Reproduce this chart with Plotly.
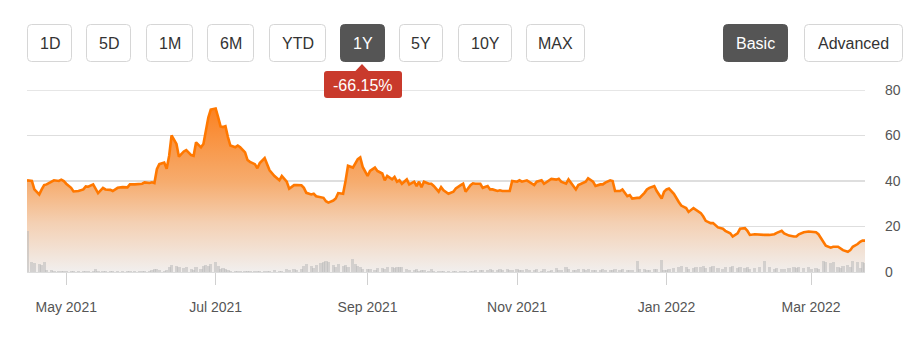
import plotly.graph_objects as go

# ---------------- data ----------------
dates = [
    "2021-04-15", "2021-04-17", "2021-04-18", "2021-04-20", "2021-04-21", "2021-04-22", "2021-04-23", "2021-04-25", "2021-04-26", "2021-04-28", "2021-04-29", "2021-04-30",
    "2021-05-01", "2021-05-03", "2021-05-04", "2021-05-06", "2021-05-08", "2021-05-09", "2021-05-10", "2021-05-12", "2021-05-13", "2021-05-14", "2021-05-16", "2021-05-17", "2021-05-19", "2021-05-20", "2021-05-22", "2021-05-24", "2021-05-26", "2021-05-27", "2021-05-29", "2021-05-31",
    "2021-06-01", "2021-06-02", "2021-06-04", "2021-06-05", "2021-06-06", "2021-06-07", "2021-06-08", "2021-06-10", "2021-06-11", "2021-06-12", "2021-06-13", "2021-06-15", "2021-06-16", "2021-06-18", "2021-06-19", "2021-06-21", "2021-06-22", "2021-06-23", "2021-06-25", "2021-06-26", "2021-06-27", "2021-06-28", "2021-06-29",
    "2021-07-01", "2021-07-02", "2021-07-03", "2021-07-04", "2021-07-05", "2021-07-06", "2021-07-07", "2021-07-09", "2021-07-10", "2021-07-11", "2021-07-13", "2021-07-14", "2021-07-15", "2021-07-17", "2021-07-18", "2021-07-19", "2021-07-21", "2021-07-22", "2021-07-23", "2021-07-25", "2021-07-27", "2021-07-28", "2021-07-30", "2021-07-31",
    "2021-08-02", "2021-08-03", "2021-08-05", "2021-08-06", "2021-08-07", "2021-08-09", "2021-08-10", "2021-08-11", "2021-08-13", "2021-08-14", "2021-08-15", "2021-08-16", "2021-08-18", "2021-08-19", "2021-08-20", "2021-08-22", "2021-08-23", "2021-08-24", "2021-08-26", "2021-08-27", "2021-08-28", "2021-08-29", "2021-08-30",
    "2021-09-01", "2021-09-02", "2021-09-04", "2021-09-05", "2021-09-07", "2021-09-08", "2021-09-09", "2021-09-11", "2021-09-12", "2021-09-13", "2021-09-14", "2021-09-15", "2021-09-17", "2021-09-18", "2021-09-20", "2021-09-21", "2021-09-22", "2021-09-23", "2021-09-24", "2021-09-26", "2021-09-27", "2021-09-28", "2021-09-30",
    "2021-10-01", "2021-10-02", "2021-10-04", "2021-10-06", "2021-10-07", "2021-10-09", "2021-10-10", "2021-10-11", "2021-10-13", "2021-10-14", "2021-10-15", "2021-10-17", "2021-10-18", "2021-10-20", "2021-10-21", "2021-10-22", "2021-10-24", "2021-10-25", "2021-10-26", "2021-10-28", "2021-10-29", "2021-10-30",
    "2021-11-01", "2021-11-02", "2021-11-03", "2021-11-05", "2021-11-06", "2021-11-08", "2021-11-09", "2021-11-11", "2021-11-12", "2021-11-14", "2021-11-15", "2021-11-17", "2021-11-18", "2021-11-19", "2021-11-21", "2021-11-22", "2021-11-24", "2021-11-25", "2021-11-26", "2021-11-28", "2021-11-29", "2021-11-30",
    "2021-12-02", "2021-12-03", "2021-12-05", "2021-12-06", "2021-12-07", "2021-12-09", "2021-12-10", "2021-12-11", "2021-12-13", "2021-12-14", "2021-12-16", "2021-12-17", "2021-12-18", "2021-12-20", "2021-12-21", "2021-12-23", "2021-12-24", "2021-12-25", "2021-12-27", "2021-12-28", "2021-12-30", "2021-12-31",
    "2022-01-01", "2022-01-02", "2022-01-04", "2022-01-06", "2022-01-07", "2022-01-09", "2022-01-10", "2022-01-12", "2022-01-13", "2022-01-15", "2022-01-16", "2022-01-17", "2022-01-19", "2022-01-20", "2022-01-22", "2022-01-24", "2022-01-25", "2022-01-27", "2022-01-28", "2022-01-30", "2022-01-31",
    "2022-02-02", "2022-02-03", "2022-02-04", "2022-02-06", "2022-02-08", "2022-02-10", "2022-02-12", "2022-02-14", "2022-02-15", "2022-02-17", "2022-02-18", "2022-02-20", "2022-02-22", "2022-02-23", "2022-02-24", "2022-02-26", "2022-02-28",
    "2022-03-01", "2022-03-03", "2022-03-04", "2022-03-06", "2022-03-07", "2022-03-09", "2022-03-10", "2022-03-12", "2022-03-13", "2022-03-14", "2022-03-16", "2022-03-17", "2022-03-18", "2022-03-20", "2022-03-21", "2022-03-22", "2022-03-23",
]

prices = [
    40.3, 40.0, 36.3, 34.1, 36.3, 38.2, 38.5, 39.7, 40.3, 40.0, 40.6, 40.0,
    38.8, 37.0, 35.4, 35.6, 36.3, 37.6, 37.5, 38.5, 36.3, 34.7, 37.0, 36.3, 36.1, 35.6, 37.0, 37.3, 37.2, 38.5, 38.5, 38.8,
    38.8, 39.4, 39.1, 39.4, 39.1, 45.2, 47.4, 48.1, 45.4, 51.0, 60.0, 56.3, 50.7, 53.0, 53.6, 51.4, 51.1, 57.0, 54.8, 56.3, 62.5, 67.9, 71.4,
    71.9, 68.1, 64.0, 63.7, 64.1, 59.3, 55.6, 54.8, 55.6, 54.8, 52.6, 49.2, 48.4, 47.4, 45.6, 47.9, 50.1, 47.4, 44.7, 42.2, 40.3, 42.2, 39.7, 36.6,
    38.2, 38.2, 38.1, 37.0, 34.8, 34.1, 34.4, 33.3, 32.9, 32.6, 31.1, 30.5, 31.4, 32.3, 34.7, 34.4, 40.0, 46.7, 45.9, 48.1, 49.6, 50.4, 46.2,
    42.2, 44.4, 45.9, 44.4, 43.3, 40.3, 42.2, 40.7, 41.8, 39.7, 40.3, 38.8, 40.7, 38.5, 39.7, 37.8, 39.7, 37.3, 39.7, 38.8, 38.8, 37.8, 35.3,
    37.3, 35.9, 34.4, 35.3, 36.7, 38.2, 38.8, 35.3, 38.2, 39.0, 38.8, 38.8, 37.0, 37.8, 36.3, 36.3, 35.6, 35.9, 35.6, 35.6, 35.6, 40.0,
    39.7, 40.3, 39.7, 40.3, 39.7, 38.2, 39.7, 40.3, 38.8, 40.3, 40.9, 40.6, 41.0, 39.7, 38.8, 40.7, 37.8, 36.3, 38.2, 39.3, 39.7, 41.2,
    39.7, 37.8, 38.5, 38.5, 39.3, 40.3, 40.0, 35.6, 35.6, 36.3, 33.3, 33.8, 32.3, 32.6, 32.6, 34.8, 36.3, 37.0, 37.8, 35.6, 32.3, 35.3,
    36.3, 36.7, 34.4, 30.8, 29.2, 28.1, 26.4, 28.1, 27.4, 25.9, 24.4, 22.5, 21.5, 21.5, 19.6, 19.0, 18.1, 17.0, 15.6, 17.0, 19.0,
    19.3, 18.1, 16.3, 16.6, 16.3, 16.3, 16.3, 16.6, 17.2, 18.1, 17.0, 16.0, 15.6, 15.6, 16.6, 17.5, 17.8,
    17.8, 17.5, 16.6, 13.3, 11.6, 10.7, 11.1, 11.1, 10.4, 9.6, 8.9, 9.6, 11.1, 12.3, 13.3, 13.8, 13.8,
]

volume = [
    18, 4.5, 4, 3.5, 3, 4.5, 1, 0.8, 0.6, 0.6, 0.5, 0.5,
    0.5, 0.4, 0.5, 0.3, 0.4, 0.5, 0.4, 0.4, 1.2, 0.6, 0.3, 0.4, 0.3, 0.4, 0.3, 0.3, 0.4, 0.3, 0.5, 0.4,
    0.5, 0.6, 0.5, 0.8, 1.2, 1.5, 0.8, 0.6, 1.0, 2.2, 3.0, 2.5, 2.0, 1.8, 2.4, 1.2, 1.0, 2.0, 1.5, 2.5, 3.0, 2.8, 3.5,
    4.5, 2.5, 1.5, 1.8, 1.2, 0.8, 0.6, 0.5, 0.5, 0.4, 0.4, 0.5, 0.4, 0.5, 0.3, 0.4, 0.5, 0.3, 0.6, 0.8, 0.6, 0.5, 1.2, 1.0,
    1.5, 0.8, 1.2, 2.5, 3.5, 2.5, 1.8, 3.0, 4.0, 4.5, 5.0, 4.2, 3.0, 2.2, 3.5, 2.6, 3.0, 2.0, 5.7, 3.5, 2.5, 2.0, 1.5,
    1.2, 1.5, 1.0, 1.8, 1.6, 1.2, 2.0, 2.2, 1.8, 2.0, 2.4, 2.0, 1.5, 1.0, 0.8, 1.2, 0.6, 1.0, 0.8, 0.6, 1.5, 0.5, 0.6,
    0.5, 0.4, 0.3, 0.4, 0.5, 0.3, 0.4, 0.3, 0.3, 0.4, 1.0, 0.9, 1.0, 1.0, 1.2, 0.8, 1.0, 1.2, 1.0, 1.4, 0.8, 1.0,
    1.2, 0.8, 1.0, 1.4, 1.0, 0.8, 1.2, 0.6, 1.5, 0.6, 0.8, 1.6, 1.0, 0.8, 2.0, 1.2, 0.8, 1.0, 1.5, 1.2, 1.0, 1.4,
    1.0, 0.8, 1.0, 1.2, 0.8, 1.0, 0.9, 1.2, 1.0, 1.4, 1.0, 0.8, 1.0, 5.0, 1.2, 1.5, 0.8, 1.0, 1.2, 1.4, 5.3, 1.0,
    1.0, 1.4, 1.6, 2.0, 2.8, 2.2, 1.4, 1.8, 2.4, 2.0, 2.8, 1.6, 2.0, 2.6, 1.6, 1.4, 2.0, 2.4, 2.8, 1.8, 2.2,
    1.6, 2.0, 1.4, 1.8, 2.4, 4.8, 2.0, 1.2, 1.6, 1.4, 1.2, 1.8, 2.0, 1.6, 2.2, 1.8, 2.0,
    1.2, 1.6, 1.4, 5.0, 4.6, 3.8, 4.5, 2.0, 1.8, 2.5, 3.0, 2.0, 4.8, 4.2, 1.8, 4.6, 4.0,
]

x_tick_vals = ["2021-05-01", "2021-07-01", "2021-09-01", "2021-11-01", "2022-01-01", "2022-03-01"]
x_tick_text = ["May 2021", "Jul 2021", "Sep 2021", "Nov 2021", "Jan 2022", "Mar 2022"]
y_tick_vals = [0, 20, 40, 60, 80]

range_buttons = ["1D", "5D", "1M", "6M", "YTD", "1Y", "5Y", "10Y", "MAX"]
active_range = "1Y"
view_buttons = ["Basic", "Advanced"]
active_view = "Basic"
change_label = "-66.15%"

# ---------------- layout geometry (pixels) ----------------
W, H = 918, 354
L, R, T, B = 27, 53, 90, 82
PW = W - L - R
PH = H - T - B

FONT = "Liberation Sans, Arial, sans-serif"
GRID = "#dedede"


def fx(px):
    return (px - L) / PW


def fy(py):
    return (H - B - py) / PH


def rrect(x0, y0, x1, y1, r):
    pts = []
    pts.append(f"M{fx(x0 + r)},{fy(y0)}")
    pts.append(f"L{fx(x1 - r)},{fy(y0)}")
    pts.append(f"Q{fx(x1)},{fy(y0)} {fx(x1)},{fy(y0 + r)}")
    pts.append(f"L{fx(x1)},{fy(y1 - r)}")
    pts.append(f"Q{fx(x1)},{fy(y1)} {fx(x1 - r)},{fy(y1)}")
    pts.append(f"L{fx(x0 + r)},{fy(y1)}")
    pts.append(f"Q{fx(x0)},{fy(y1)} {fx(x0)},{fy(y1 - r)}")
    pts.append(f"L{fx(x0)},{fy(y0 + r)}")
    pts.append(f"Q{fx(x0)},{fy(y0)} {fx(x0 + r)},{fy(y0)}")
    pts.append("Z")
    return " ".join(pts)


fig = go.Figure()

fig.add_trace(go.Scatter(
    x=dates, y=prices, mode="lines", fill="tozeroy",
    line=dict(color="#ff7800", width=2.6),
    fillgradient=dict(
        type="vertical", start=0, stop=72,
        colorscale=[[0, "#f1efee"], [0.3, "#f4d0b3"], [0.55, "#f6ac6e"], [1, "#fb8222"]],
    ),
    hoverinfo="skip", showlegend=False,
))

fig.add_trace(go.Bar(
    x=dates, y=volume, yaxis="y2",
    marker=dict(color="rgba(185,185,185,0.55)", line=dict(width=0)),
    width=86400000 * 1.3,
    hoverinfo="skip", showlegend=False,
))

shapes = []
annotations = []

# top gridline (80) sits on the plot edge, draw it explicitly
shapes.append(dict(
    type="line", xref="paper", yref="y", x0=0, x1=1, y0=y_tick_vals[-1], y1=y_tick_vals[-1],
    line=dict(color=GRID, width=1.5), layer="below",
))

# range buttons
btn_x = [(27, 72), (86, 131), (146, 193), (207, 254), (269, 326), (340, 385), (399, 443), (458, 512), (526, 585)]
for label, (x0, x1) in zip(range_buttons, btn_x):
    active = label == active_range
    shapes.append(dict(
        type="path", xref="paper", yref="paper",
        path=rrect(x0 + 0.5, 24.5, x1 - 0.5, 61.5, 4),
        fillcolor="#555555" if active else "#ffffff",
        line=dict(color="#555555" if active else "#d6d6d6", width=1),
        layer="above",
    ))
    annotations.append(dict(
        x=fx((x0 + x1) / 2), y=fy(43), xref="paper", yref="paper",
        text=label, showarrow=False, xanchor="center", yanchor="middle",
        font=dict(family=FONT, size=16, color="#ffffff" if active else "#333333"),
    ))

view_x = [(723, 788), (804, 903)]
for label, (x0, x1) in zip(view_buttons, view_x):
    active = label == active_view
    shapes.append(dict(
        type="path", xref="paper", yref="paper",
        path=rrect(x0 + 0.5, 24.5, x1 - 0.5, 61.5, 4),
        fillcolor="#555555" if active else "#ffffff",
        line=dict(color="#555555" if active else "#d6d6d6", width=1),
        layer="above",
    ))
    annotations.append(dict(
        x=fx((x0 + x1) / 2), y=fy(43), xref="paper", yref="paper",
        text=label, showarrow=False, xanchor="center", yanchor="middle",
        font=dict(family=FONT, size=16, color="#ffffff" if active else "#333333"),
    ))

# change badge
shapes.append(dict(
    type="path", xref="paper", yref="paper",
    path=rrect(324, 71, 402, 98, 3),
    fillcolor="#c93a2c", line=dict(width=0), layer="above",
))
shapes.append(dict(
    type="path", xref="paper", yref="paper",
    path=f"M{fx(355)},{fy(71.5)} L{fx(362)},{fy(64)} L{fx(369)},{fy(71.5)} Z",
    fillcolor="#c93a2c", line=dict(width=0), layer="above",
))
annotations.append(dict(
    x=fx(363), y=fy(85), xref="paper", yref="paper",
    text=change_label, showarrow=False, xanchor="center", yanchor="middle",
    font=dict(family=FONT, size=16, color="#ffffff"),
))

fig.update_layout(
    width=W, height=H,
    margin=dict(l=L, r=R, t=T, b=B, pad=0),
    paper_bgcolor="white", plot_bgcolor="white",
    showlegend=False,
    bargap=0,
    shapes=shapes,
    annotations=annotations,
    xaxis=dict(
        type="date", range=[dates[0], dates[-1]],
        tickvals=x_tick_vals, ticktext=x_tick_text,
        ticks="outside", ticklen=12, tickcolor="#d0d0d0", tickwidth=1,
        showgrid=False, zeroline=False,
        showline=True, linecolor="#dcdcdc", linewidth=1,
        tickfont=dict(family=FONT, size=14, color="#555555"),
        ticklabelstandoff=10,
        fixedrange=True,
    ),
    yaxis=dict(
        side="right", range=[0, 80], tickvals=y_tick_vals,
        showgrid=True, gridcolor=GRID, gridwidth=1.5,
        zeroline=False, showline=False, ticks="",
        tickfont=dict(family=FONT, size=14, color="#555555"),
        ticklabelstandoff=19,
        fixedrange=True,
    ),
    yaxis2=dict(
        overlaying="y", range=[0, 80], visible=False, fixedrange=True,
    ),
)

fig.write_html("out.html", config={"displayModeBar": False, "staticPlot": True})
